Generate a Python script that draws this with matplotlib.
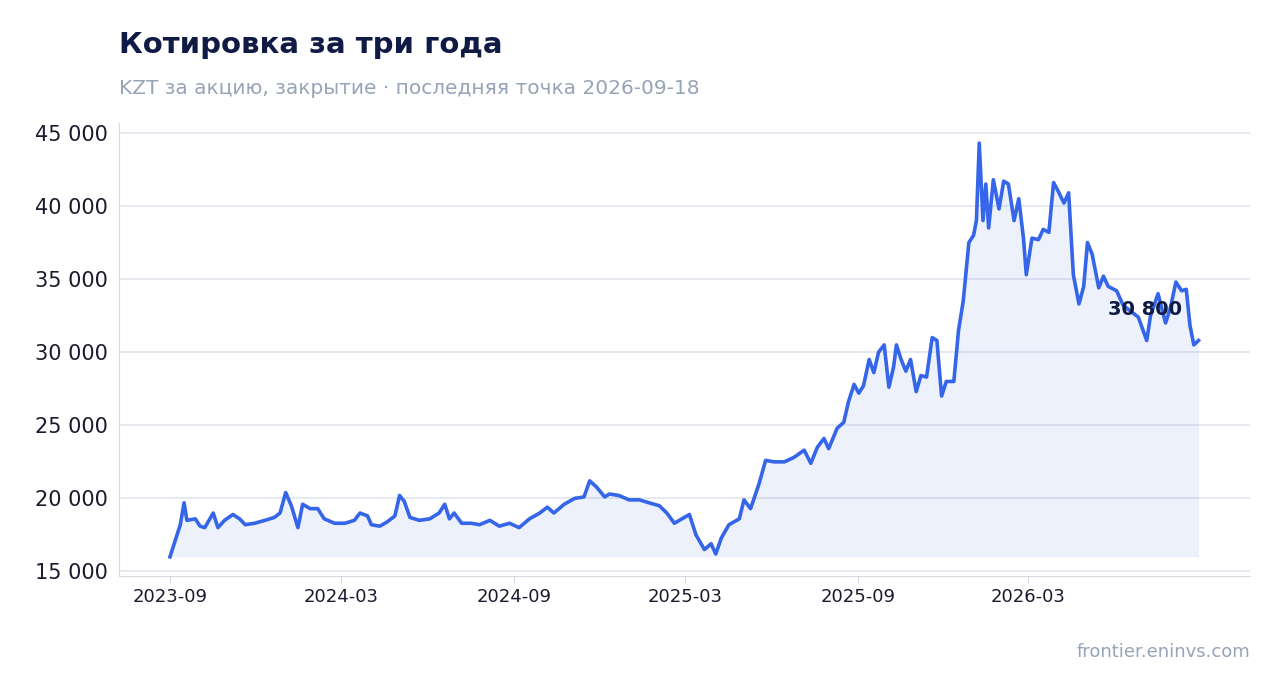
import matplotlib
matplotlib.use("Agg")
import matplotlib.pyplot as plt
import matplotlib.dates as mdates
from matplotlib.ticker import FuncFormatter
import pandas as pd

start = "2023-09-01"
day_offsets = [0,5,11,15,18,27,32,37,46,51,58,67,74,80,90,101,111,117,123,129,136,141,149,157,164,175,186,196,202,210,214,223,231,239,244,249,255,265,276,286,292,297,302,310,320,329,340,350,361,371,382,393,401,408,419,430,440,446,453,462,467,477,488,499,509,520,528,536,544,552,559,568,575,580,586,594,605,610,617,626,633,642,653,663,674,681,688,695,700,709,716,721,727,732,737,743,748,753,759,764,769,772,777,782,787,793,798,804,810,815,820,825,833,838,843,849,854,857,860,864,867,870,875,881,886,891,897,902,907,910,916,923,928,934,939,944,950,955,960,966,971,975,980,987,992,997,1006,1013,1019,1029,1038,1042,1050,1058,1063,1069,1075,1080,1084,1088,1093]
prices = [16000,17000,18200,19700,18500,18600,18100,18000,19000,18000,18500,18900,18600,18200,18300,18500,18700,19000,20400,19500,18000,19600,19300,19300,18600,18300,18300,18500,19000,18800,18200,18100,18400,18800,20200,19800,18700,18500,18600,19000,19600,18600,19000,18300,18300,18200,18500,18100,18300,18000,18600,19000,19400,19000,19600,20000,20100,21200,20800,20100,20300,20200,19900,19900,19700,19500,19000,18300,18600,18900,17500,16500,16900,16200,17300,18200,18600,19900,19300,21000,22600,22500,22500,22800,23300,22400,23500,24100,23400,24800,25200,26600,27800,27200,27700,29500,28600,30000,30500,27600,29000,30500,29500,28700,29500,27300,28400,28300,31000,30800,27000,28000,28000,31500,33500,37500,38000,39000,44300,39000,41500,38500,41800,39800,41700,41500,39000,40500,37800,35300,37800,37700,38400,38200,41600,41000,40200,40900,35300,33300,34500,37500,36700,34400,35200,34500,34200,33200,32900,32400,30800,32500,34000,32000,33000,34800,34200,34300,31800,30500,30800]
last_label = "30 800"
tick_dates = ["2023-09","2024-03","2024-09","2025-03","2025-09","2026-03"]
y_ticks = [15000,20000,25000,30000,35000,40000,45000]

dates = pd.to_datetime(start) + pd.to_timedelta(day_offsets, unit="D")

fig = plt.figure(figsize=(12.81, 6.93), dpi=100)
ax = fig.add_axes([0.093, 0.169, 0.883, 0.654])
line_c = "#3565E8"
ax.fill_between(dates, prices, min(prices), color=line_c, alpha=0.09, lw=0)
ax.plot(dates, prices, color=line_c, lw=2.6)
ax.set_ylim(14700, 45700)
ax.set_xlim(pd.to_datetime(start) - pd.Timedelta(days=54), pd.to_datetime(start) + pd.Timedelta(days=1148))
ax.set_yticks(y_ticks)
ax.yaxis.set_major_formatter(FuncFormatter(lambda v, p: f"{int(v):,}".replace(",", " ")))
ax.set_xticks(pd.to_datetime(tick_dates))
ax.xaxis.set_major_formatter(mdates.DateFormatter("%Y-%m"))
ax.grid(axis="y", color="#E1E5EE", lw=1.2)
ax.set_axisbelow(True)
for s in ["top", "right"]:
    ax.spines[s].set_visible(False)
for s in ["left", "bottom"]:
    ax.spines[s].set_color("#D5DAE3")
ax.tick_params(axis="y", labelsize=15, colors="#1A1A2E", length=0, pad=8)
ax.tick_params(axis="x", labelsize=13, colors="#1A1A2E", length=5, color="#D5DAE3")
ax.annotate(last_label, (dates[-1], prices[-1]), xytext=(-12, 22), textcoords="offset points",
            ha="right", va="center", fontsize=14, fontweight="bold", color="#0F1B44")
fig.text(0.093, 0.935, "Котировка за три года", fontsize=21, fontweight="bold", color="#0F1B44", va="center")
fig.text(0.093, 0.873, "KZT за акцию, закрытие · последняя точка 2026-09-18", fontsize=14.5, color="#97A3B6", va="center")
fig.text(0.976, 0.059, "frontier.eninvs.com", fontsize=13, color="#97A3B6", ha="right", va="center")
fig.savefig("out.png", dpi=100)
